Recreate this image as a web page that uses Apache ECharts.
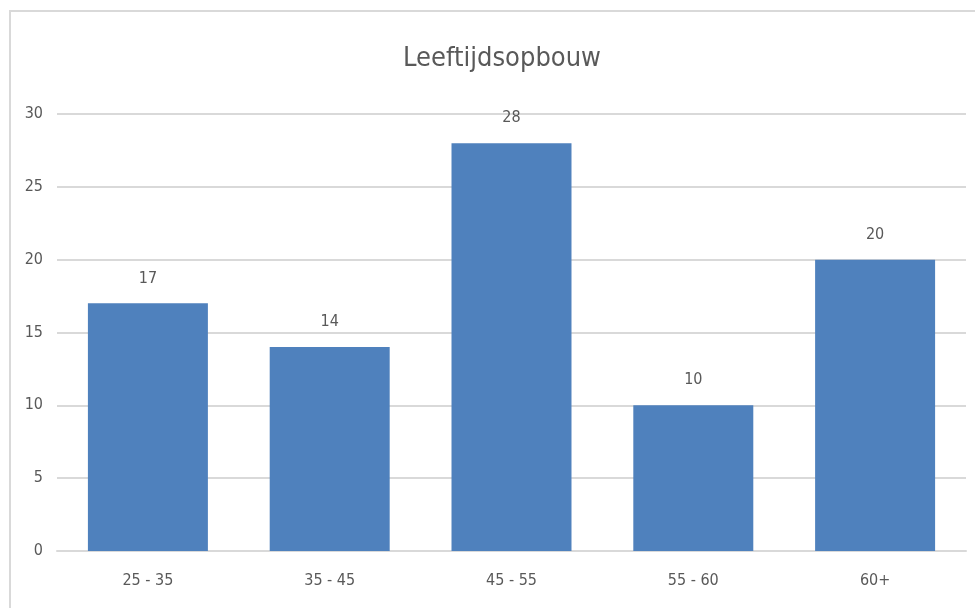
<!DOCTYPE html>
<html>
<head>
<meta charset="utf-8">
<script src="https://cdn.jsdelivr.net/npm/echarts@6/dist/echarts.min.js"></script>
<style>
  html, body { margin: 0; padding: 0; background: #fff; }
  #chart { width: 975px; height: 608px; }
</style>
</head>
<body>
<div id="chart"></div>
<script>
// gegevens uit de grafiek
const categories = ["25 - 35", "35 - 45", "45 - 55", "55 - 60", "60+"];
const values = [17, 14, 28, 10, 20];
const yTicks = [0, 5, 10, 15, 20, 25, 30];

const font = "'Liberation Sans Narrow', 'DejaVu Sans Condensed', sans-serif";
const textColor = "#595959";

const myChart = echarts.init(document.getElementById("chart"));
const option = {
  backgroundColor: "#fff",
  title: {
    text: "Leeftijdsopbouw",
    left: 398,
    top: 40,
    textStyle: { fontFamily: font, fontSize: 27, fontWeight: "normal", color: textColor }
  },
  graphic: [
    {
      type: "rect",
      shape: { x: 10, y: 11, width: 1000, height: 1000 },
      style: { fill: "none", stroke: "#d9d9d9", lineWidth: 2 },
      silent: true
    }
  ],
  grid: { left: 57, right: 9, top: 114, bottom: 57 },
  xAxis: {
    type: "category",
    data: categories,
    axisTick: { show: false },
    axisLine: { lineStyle: { color: "#d9d9d9", width: 2 } },
    axisLabel: { fontFamily: font, fontSize: 16, color: textColor, margin: 22 }
  },
  yAxis: {
    type: "value",
    min: yTicks[0],
    max: yTicks[yTicks.length - 1],
    interval: 5,
    axisLine: { show: false },
    axisTick: { show: false },
    splitLine: { lineStyle: { color: "#d9d9d9", width: 2 } },
    axisLabel: { fontFamily: font, fontSize: 16, color: textColor, margin: 14 }
  },
  series: [
    {
      type: "bar",
      data: values,
      barCategoryGap: "34%",
      itemStyle: { color: "#4f81bd" },
      label: {
        show: true,
        position: "top",
        distance: 17,
        fontFamily: font,
        fontSize: 16,
        color: textColor
      }
    }
  ]
};
myChart.setOption(option);
window.addEventListener("resize", function() {
  myChart.resize();
});
</script>
</body>
</html>
